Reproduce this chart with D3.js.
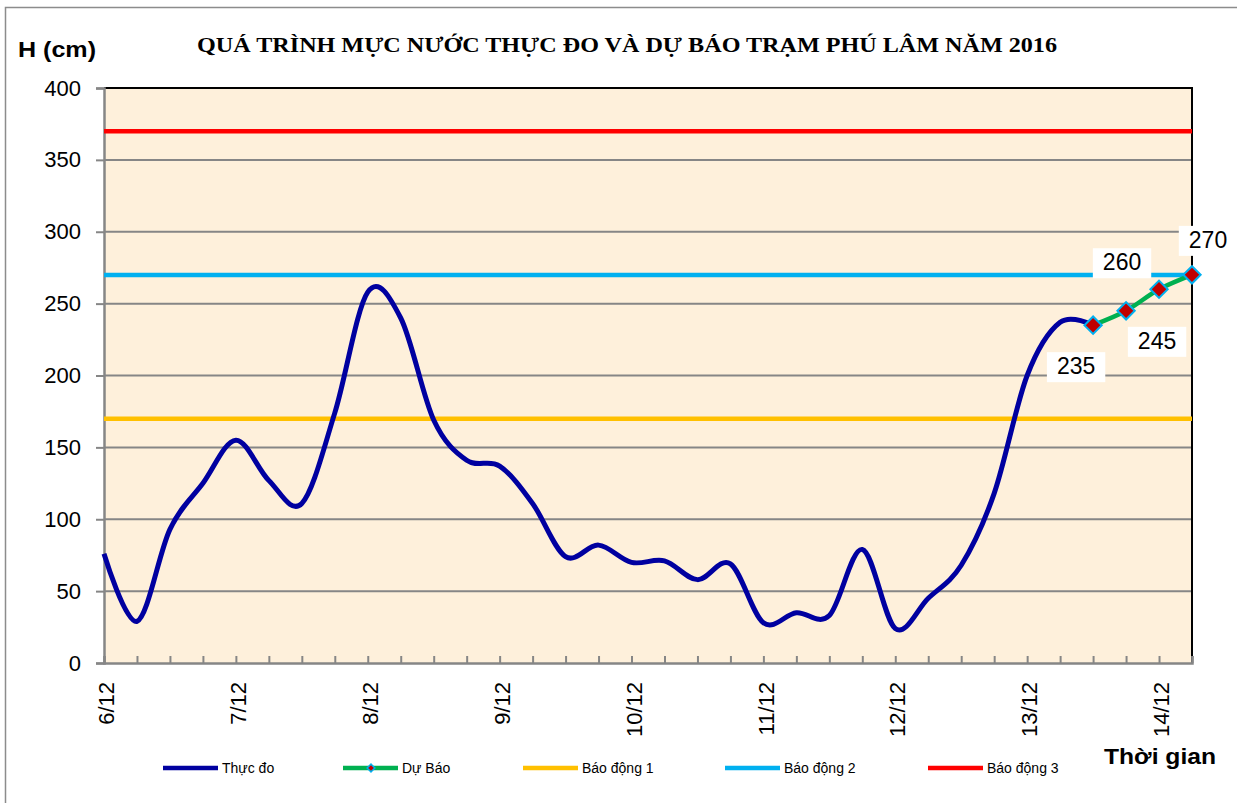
<!DOCTYPE html>
<html>
<head>
<meta charset="utf-8">
<title>Phú Lâm 2016</title>
<script src="https://d3js.org/d3.v7.min.js"></script>
<style>
    body { margin: 0; background: #fff; }
    svg text { font-family: "Liberation Sans", Arial, sans-serif; }
    svg text.title { font-family: "Liberation Serif", "Times New Roman", serif; }
</style>
</head>
<body>
<div id="chart"></div>
<script>
    // data (one point every 6 hours)
    var dateLabels = ["6/12", "7/12", "8/12", "9/12", "10/12", "11/12", "12/12", "13/12", "14/12"];
    var thucDo = [76, 29, 93, 125, 155, 127, 111, 174, 258, 240, 169, 141, 137, 111, 74, 82,
                  70, 71, 58, 69, 28, 35, 33, 79, 24, 45, 68, 118, 200, 237, 235];
    var duBao = [235, 245, 260, 270];
    var alarmLevels = [170, 270, 370];
    var alarmNames = ["Báo động 1", "Báo động 2", "Báo động 3"];
    var alarmColors = ["#FFC000", "#00B0F0", "#FF0000"];
    var yTicks = [0, 50, 100, 150, 200, 250, 300, 350, 400];

    var W = 1237, H = 803;
    var margin = { top: 88, right: 45, bottom: 140, left: 104 };
    var nPts = thucDo.length - 1 + duBao.length;   // 34 points, index 0..33

    var svg = d3.select("#chart").append("svg")
        .attr("width", W).attr("height", H);

    // outer chart frame
    svg.append("path")
        .attr("d", "M5.5," + H + " L5.5,7.5 L" + W + ",7.5")
        .attr("fill", "none").attr("stroke", "#8c8c8c").attr("stroke-width", 1.5);

    var x = d3.scaleLinear().domain([0, nPts - 1]).range([margin.left, W - margin.right]);
    var y = d3.scaleLinear().domain([0, 400]).range([H - margin.bottom, margin.top]);

    // plot background
    svg.append("rect")
        .attr("x", x(0)).attr("y", y(400))
        .attr("width", x(nPts - 1) - x(0)).attr("height", y(0) - y(400))
        .attr("fill", "#FEF0DB");

    // gridlines
    svg.append("g").selectAll("line")
        .data(yTicks.filter(function (d) { return d > 0 && d < 400; }))
        .join("line")
        .attr("x1", x(0)).attr("x2", x(nPts - 1))
        .attr("y1", function (d) { return y(d); }).attr("y2", function (d) { return y(d); })
        .attr("stroke", "#868686").attr("stroke-width", 2);

    // top and right border
    svg.append("path")
        .attr("d", "M" + x(0) + "," + y(400) + " L" + x(nPts - 1) + "," + y(400) + " L" + x(nPts - 1) + "," + y(0))
        .attr("fill", "none").attr("stroke", "#000").attr("stroke-width", 2);

    // y axis
    var yAxis = svg.append("g")
        .attr("transform", "translate(" + x(0) + ",0)")
        .call(d3.axisLeft(y).tickValues(yTicks).tickSize(8).tickPadding(15));
    yAxis.select(".domain").attr("stroke", "#868686").attr("stroke-width", 2.5);
    yAxis.selectAll(".tick line").attr("stroke", "#868686").attr("stroke-width", 2);
    yAxis.selectAll("text").attr("font-size", 22).attr("fill", "#000");

    // x axis: small inside ticks every 6 hours
    var xAxis = svg.append("g")
        .attr("transform", "translate(0," + y(0) + ")")
        .call(d3.axisBottom(x).tickValues(d3.range(nPts)).tickSize(-7).tickFormat(""));
    xAxis.select(".domain").attr("stroke", "#868686").attr("stroke-width", 2.5);
    xAxis.selectAll(".tick line").attr("stroke", "#868686").attr("stroke-width", 2);

    // date labels every 4 steps
    var xLab = svg.append("g")
        .attr("transform", "translate(0," + y(0) + ")")
        .call(d3.axisBottom(x).tickValues(dateLabels.map(function (d, i) { return i * 4; }))
            .tickSize(0).tickFormat(function (d) { return dateLabels[d / 4]; }));
    xLab.select(".domain").remove();
    xLab.selectAll("text")
        .attr("font-size", 22).attr("fill", "#000")
        .attr("transform", "rotate(-90)")
        .attr("text-anchor", "end")
        .attr("x", -19).attr("y", 2).attr("dy", "0.35em");

    // alarm lines
    svg.append("g").selectAll("path")
        .data(alarmLevels)
        .join("path")
        .attr("d", function (lv) {
            return d3.line().x(function (d) { return x(d); }).y(y(lv))([0, nPts - 1]);
        })
        .attr("stroke", function (d, i) { return alarmColors[i]; })
        .attr("stroke-width", 4.5).attr("fill", "none");

    var smooth = d3.line()
        .x(function (d) { return x(d.i); })
        .y(function (d) { return y(d.v); })
        .curve(d3.curveCardinal.tension(0));

    var obs = thucDo.map(function (v, i) { return { i: i, v: v }; });
    var fc = duBao.map(function (v, i) { return { i: thucDo.length - 1 + i, v: v }; });

    svg.append("path").datum(obs)
        .attr("d", smooth)
        .attr("fill", "none").attr("stroke", "#0000A0").attr("stroke-width", 5)
        .attr("stroke-linejoin", "round");

    svg.append("path").datum(fc)
        .attr("d", smooth)
        .attr("fill", "none").attr("stroke", "#00B050").attr("stroke-width", 4.5);

    var diamond = d3.symbol().type(d3.symbolSquare).size(150);
    svg.append("g").selectAll("path")
        .data(fc)
        .join("path")
        .attr("d", diamond)
        .attr("transform", function (d) { return "translate(" + x(d.i) + "," + y(d.v) + ") rotate(45)"; })
        .attr("fill", "#C00000").attr("stroke", "#00B0F0").attr("stroke-width", 2);

    // data labels (manual offsets like the original)
    var labelOffsets = [[-17, 49], [31, 38], [-37, -19], [16, -27]];
    var lab = svg.append("g").selectAll("g")
        .data(fc)
        .join("g")
        .attr("transform", function (d, i) {
            return "translate(" + (x(d.i) + labelOffsets[i][0]) + "," + (y(d.v) + labelOffsets[i][1]) + ")";
        });
    lab.append("text")
        .attr("text-anchor", "middle").attr("font-size", 23).attr("fill", "#000")
        .text(function (d) { return d.v; });
    lab.insert("rect", "text").each(function () {
        var bb = this.parentNode.querySelector("text").getBBox();
        d3.select(this)
            .attr("x", bb.x - 10).attr("y", bb.y - 1)
            .attr("width", bb.width + 20).attr("height", bb.height + 4)
            .attr("fill", "#fff");
    });

    // title and axis titles
    svg.append("text")
        .attr("class", "title")
        .attr("x", 197).attr("y", 52)
        .attr("font-weight", "bold").attr("font-size", 21)
        .attr("textLength", 860).attr("lengthAdjust", "spacingAndGlyphs")
        .text("QUÁ TRÌNH MỰC NƯỚC THỰC ĐO VÀ DỰ BÁO TRẠM  PHÚ LÂM NĂM 2016");

    svg.append("text")
        .attr("x", 18).attr("y", 57)
        .attr("font-weight", "bold").attr("font-size", 22)
        .attr("textLength", 78).attr("lengthAdjust", "spacingAndGlyphs")
        .text("H (cm)");

    svg.append("text")
        .attr("x", 1104).attr("y", 764)
        .attr("font-weight", "bold").attr("font-size", 22)
        .attr("textLength", 112).attr("lengthAdjust", "spacingAndGlyphs")
        .text("Thời gian");

    // legend
    var legendItems = [
        { name: "Thực đo", color: "#0000A0", marker: false },
        { name: "Dự Báo", color: "#00B050", marker: true }
    ].concat(alarmNames.map(function (n, i) { return { name: n, color: alarmColors[i], marker: false }; }));
    var legendX = [163, 343, 523, 725, 928];
    var lg = svg.append("g").selectAll("g")
        .data(legendItems)
        .join("g")
        .attr("transform", function (d, i) { return "translate(" + legendX[i] + ",768)"; });
    lg.append("line")
        .attr("x1", 0).attr("x2", 55)
        .attr("stroke", function (d) { return d.color; }).attr("stroke-width", 4.5);
    lg.filter(function (d) { return d.marker; })
        .append("path")
        .attr("d", d3.symbol().type(d3.symbolSquare).size(30))
        .attr("transform", "translate(28,0) rotate(45)")
        .attr("fill", "#C00000").attr("stroke", "#00B0F0").attr("stroke-width", 1.5);
    lg.append("text")
        .attr("x", 59).attr("dy", "0.35em")
        .attr("font-size", 14).attr("fill", "#000")
        .text(function (d) { return d.name; });
</script>
</body>
</html>
